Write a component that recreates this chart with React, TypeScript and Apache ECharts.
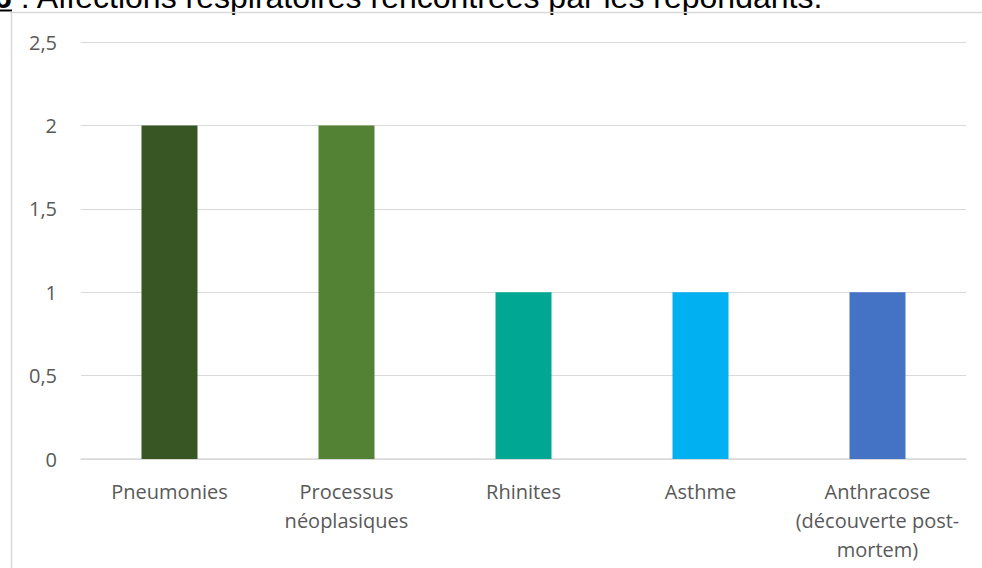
import React, { useEffect, useRef } from "react";
import * as echarts from "echarts";

const categories = [
  "Pneumonies",
  "Processus\nnéoplasiques",
  "Rhinites",
  "Asthme",
  "Anthracose\n(découverte post-\nmortem)",
];
const values = [2, 2, 1, 1, 1];
const barColors = ["#375623", "#548235", "#00A894", "#00B0F0", "#4472C4"];
const yTicks = { min: 0, max: 2.5, interval: 0.5 };
const titleNumber = "6";
const titleText = " : Affections respiratoires rencontrées par les répondants.";

export default function App() {
  const ref = useRef<HTMLDivElement>(null);
  useEffect(() => {
    if (!ref.current) return;
    const chart = echarts.init(ref.current, null, { renderer: "svg" });
    chart.setOption({
      animation: false,
      backgroundColor: "#ffffff",
      grid: { left: 81, right: 16, top: 42, bottom: 109, containLabel: false },
      xAxis: {
        type: "category",
        data: categories,
        axisLine: { show: true, lineStyle: { color: "#d9d9d9", width: 1.5 } },
        axisTick: { show: false },
        axisLabel: {
          color: "#595959",
          fontFamily: "Open Sans",
          fontSize: 20,
          lineHeight: 29,
          margin: 18,
          interval: 0,
        },
      },
      yAxis: {
        type: "value",
        min: yTicks.min,
        max: yTicks.max,
        interval: yTicks.interval,
        axisLine: { show: false },
        axisTick: { show: false },
        splitLine: { lineStyle: { color: "#d9d9d9", width: 1.2 } },
        axisLabel: {
          color: "#595959",
          fontFamily: "Open Sans",
          fontSize: 20,
          margin: 24,
          formatter: (v: number) => String(v).replace(".", ","),
        },
      },
      series: [
        {
          type: "bar",
          data: values.map((v, i) => ({ value: v, itemStyle: { color: barColors[i] } })),
          barWidth: 56,
        },
      ],
      graphic: [
        {
          type: "line",
          shape: { x1: 10, y1: 12.5, x2: 982, y2: 12.5 },
          style: { stroke: "#d9d9d9", lineWidth: 1.5 },
          z: 10,
        },
        {
          type: "line",
          shape: { x1: 11.5, y1: 12, x2: 11.5, y2: 568 },
          style: { stroke: "#d9d9d9", lineWidth: 1.5 },
          z: 10,
        },
        {
          type: "text",
          x: -6,
          y: -3,
          style: {
            text: "{b|" + titleNumber + "}" + titleText,
            rich: {
              b: { fontWeight: "bold", fontFamily: "Liberation Sans", fontSize: 32, fill: "#000" },
            },
            fontFamily: "Liberation Sans",
            fontSize: 32,
            fill: "#000000",
            verticalAlign: "middle",
            align: "left",
          },
          z: 5,
        },
        {
          type: "line",
          shape: { x1: 0, y1: 10.5, x2: 12, y2: 10.5 },
          style: { stroke: "#000000", lineWidth: 2 },
          z: 6,
        },
      ],
    });
    return () => chart.dispose();
  }, []);
  return (
    <div
      ref={ref}
      style={{ position: "fixed", left: 0, top: 0, width: 982, height: 568 }}
    />
  );
}
